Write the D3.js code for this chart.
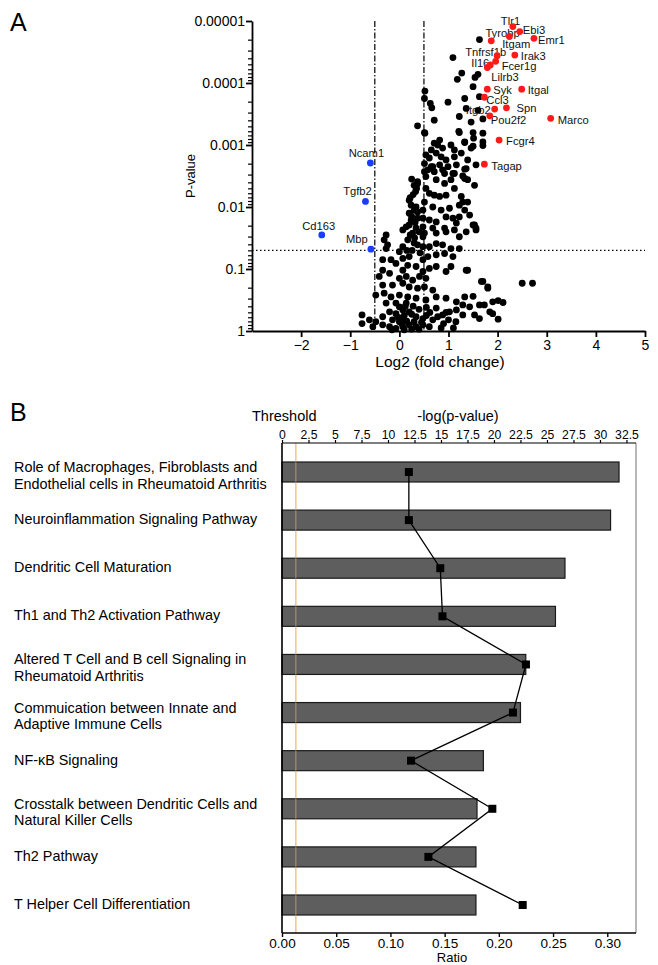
<!DOCTYPE html>
<html><head><meta charset="utf-8">
<script src="https://cdn.jsdelivr.net/npm/d3@7"></script>
<style>
body{margin:0;background:#fff;}
svg{display:block;font-family:"Liberation Sans",Arial,Helvetica,sans-serif;}
</style></head>
<body><svg id="c" width="658" height="965"></svg>
<script>
// ---------- Panel A data ----------
const xTicksA = [-2,-1,0,1,2,3,4,5];
const yTicksA = [1e-5,1e-4,1e-3,1e-2,1e-1,1];
const yTickLabelsA = ["0.00001","0.0001","0.001","0.01","0.1","1"];
const pThreshold = 0.05;
const fcThresholds = [-0.5, 0.5];
// [log2 fold change, -log10 p]
const blackPoints = [
[1.63,4.70],[1.09,4.41],[1.27,4.16],[1.18,4.06],[1.60,4.14],[1.54,4.09],[1.50,3.94],[0.52,3.87],
[0.51,3.75],[0.63,3.67],[0.66,3.60],[0.99,3.69],[1.33,3.75],[1.63,3.78],[1.36,3.59],[1.60,3.56],
[0.37,3.31],[0.51,3.20],[0.71,3.40],[1.22,3.46],[1.46,3.37],[1.70,3.42],[1.22,3.20],[1.50,3.20],
[0.82,3.08],[0.71,3.03],[0.78,3.00],[0.88,2.95],[1.05,3.00],[1.12,2.92],[1.33,3.05],[1.46,2.95],[1.70,3.05],
[0.65,2.92],[0.75,2.87],[0.54,2.84],[0.61,2.79],[0.85,2.81],[0.95,2.76],[1.12,2.81],[1.26,2.87],[1.39,2.76],
[1.56,2.68],[1.36,2.62],[1.16,2.68],[0.99,2.65],[0.82,2.68],[0.65,2.65],[0.51,2.70],[0.51,2.57],[0.71,2.57],
[0.92,2.54],[1.12,2.54],[0.52,3.19],[1.21,3.22],[1.51,3.11],[1.70,3.19],[1.70,2.99],[1.33,3.04],[1.50,2.98],
[1.33,2.61],[1.29,2.50],[1.09,2.54],[0.88,2.60],
[0.37,2.38],[0.34,2.33],[0.33,2.25],[0.54,2.30],[0.61,2.22],[0.75,2.44],[0.92,2.38],[1.12,2.30],[1.05,2.44],
[1.26,2.17],[0.95,2.19],[0.82,2.17],[0.71,2.19],[0.20,2.11],[0.24,2.03],[0.34,2.00],[0.51,2.08],[0.68,2.00],
[0.85,1.95],[1.02,1.98],[1.22,2.03],[1.29,2.08],[1.39,2.08],[1.22,1.84],[0.20,1.90],[0.24,1.79],[0.37,1.82],
[0.48,1.82],[0.61,1.79],[0.75,1.76],[0.48,1.68],[0.34,1.66],[0.27,1.58],[0.51,1.58],[0.92,1.66],[0.95,1.60],
[1.12,1.63],[1.53,1.71],[1.56,1.63],[1.22,1.52],[-0.27,1.55],[-0.31,1.47],[-0.24,1.39],[-0.27,1.33],[0.17,1.47],
[0.31,1.50],[0.48,1.52],[0.37,1.39],[0.48,1.36],[0.61,1.36],[0.75,1.41],[0.88,1.39],[1.05,1.33],[1.22,1.33],
[0.92,1.25],[0.75,1.23],[0.58,1.20],[0.48,1.15],[0.20,1.20],[0.07,1.17],[-0.17,1.15],[-0.34,1.15],[1.09,1.20],
[1.36,0.98],[1.05,1.04],[0.95,0.96],[0.75,1.04],[0.61,1.01],[0.48,0.96],[0.34,1.04],[0.17,1.06],[0.07,0.98],
[-0.07,1.09],[-0.20,0.93],[-0.34,0.98],[-0.41,0.88],[1.70,0.80],[1.80,0.71],[2.50,0.77],[2.71,0.77],
[-0.34,0.74],[-0.14,0.74],[0.07,0.77],[0.20,0.71],[0.37,0.69],[0.51,0.71],[0.68,0.66],[0.75,0.55],
[-0.48,0.58],[-0.31,0.61],[-0.17,0.55],[0.00,0.58],[0.17,0.55],[0.34,0.53],[0.54,0.50],[0.95,0.53],[1.16,0.47],
[1.33,0.55],[1.50,0.56],[1.29,0.42],[1.43,0.39],[1.63,0.42],[1.73,0.42],[1.90,0.47],[2.01,0.49],[2.11,0.46],
[1.84,0.31],[1.90,0.28],[2.01,0.19],[1.63,0.20],[1.53,0.26],[1.16,0.34],[1.29,0.26],[1.02,0.31],[0.88,0.26],
[0.75,0.37],[0.78,0.23],[0.68,0.18],[0.48,0.20],[0.34,0.23],[0.20,0.31],[0.07,0.34],[-0.07,0.28],[-0.20,0.31],
[-0.34,0.23],[-0.48,0.15],[-0.61,0.18],[-0.76,0.26],[-0.76,0.12],[-0.54,0.07],[-0.34,0.10],[-0.20,0.07],
[-0.07,0.04],[0.07,0.07],[0.20,0.10],[0.34,0.07],[0.48,0.10],[0.61,0.07],[0.00,0.15],[-0.14,0.18],[0.07,0.20],
[0.00,0.39],[0.14,0.45],[-0.07,0.45],[-0.27,0.45],[0.14,0.88],[0.27,0.82],[0.00,0.85],[0.41,0.88],[0.54,0.85],
[0.07,1.36],[0.00,1.28],[0.14,1.68],[0.07,1.63],[0.20,1.71],[0.75,1.58],[0.68,1.66],[1.09,1.82],[1.16,1.74],
[0.95,1.84],[1.43,1.87],[1.33,1.95],[0.48,1.95],[0.37,1.92],[0.54,2.49],[0.58,2.60],[0.68,2.65],
[0.10,0.02],[0.25,0.03],[0.40,0.03],[-0.15,0.02],[0.05,0.12],[0.15,0.16],[0.30,0.15],[0.45,0.14],[0.55,0.25],
[0.62,0.30],[0.10,0.25],[0.25,0.27],[-0.02,0.22],[0.12,0.40],[0.28,0.40],[0.40,0.35],[0.55,0.38],[0.90,0.12],
[1.00,0.18],[1.15,0.15],[1.10,0.05],[0.85,0.05],[0.95,0.30],[0.25,2.45],[0.30,2.35],[0.28,2.20],[0.22,2.15],
[0.30,1.95],[0.25,1.85],[0.32,1.75],[0.40,1.60],[0.22,1.55],[0.30,1.42],[0.26,1.30],[0.15,1.30],[0.42,1.26],
[0.37,2.41],[0.35,2.30],[1.33,2.46],[1.39,2.44],[1.53,2.35],[1.50,1.71],[1.56,1.66],[1.36,1.60],
[1.67,0.80],[1.80,0.69],[1.39,0.98]
];
// [gene, log2 fold change, -log10 p]
const upGenes = [
["Tlr1",2.31,4.91],["Ebi3",2.45,4.83],["Tyrobp",2.24,4.75],["Itgam",1.87,4.68],["Emr1",2.74,4.72],
["Tnfrsf1b",1.99,4.44],["Irak3",2.35,4.45],["Il16",1.79,4.25],["Fcer1g",1.96,4.35],["Lilrb3",1.85,4.29],
["Syk",1.79,3.90],["Itgal",2.49,3.90],["Ccl3",1.73,3.77],["Itgb2",1.94,3.58],["Spn",2.18,3.60],
["Pou2f2",1.84,3.47],["Marco",3.08,3.43],["Fcgr4",2.03,3.08],["Tagap",1.73,2.69]
];
const downGenes = [
["Ncam1",-0.59,2.71],["Tgfb2",-0.69,2.09],["Cd163",-1.58,1.55],["Mbp",-0.58,1.32]
];
// label placement (layout only)
const labelLayout = {
Tlr1:[-12,-2,"start"],Ebi3:[3,2,"start"],Tyrobp:[-24,0,"start"],Itgam:[11,7.5,"start"],Emr1:[4,5.5,"start"],
Tnfrsf1b:[-32,0,"start"],Irak3:[6,5,"start"],Il16:[-16,-1,"start"],Fcer1g:[6,9,"start"],Lilrb3:[1,15.5,"start"],
Syk:[6,4.5,"start"],Itgal:[6,4.5,"start"],Ccl3:[2,7,"start"],Itgb2:[-4,4.5,"end"],Spn:[10,4.5,"start"],
Pou2f2:[1,8,"start"],Marco:[7,5.5,"start"],Fcgr4:[7,5,"start"],Tagap:[7,5.5,"start"],
Ncam1:[-4,-6,"middle"],Tgfb2:[-8,-6,"middle"],Cd163:[-3,-4.5,"middle"],Mbp:[-14,-6,"middle"]
};

// ---------- Panel B data ----------
const pathways = [
"Role of Macrophages, Fibroblasts and|Endothelial cells in Rheumatoid Arthritis",
"Neuroinflammation Signaling Pathway",
"Dendritic Cell Maturation",
"Th1 and Th2 Activation Pathway",
"Altered T Cell and B cell Signaling in|Rheumatoid Arthritis",
"Commuication between Innate and|Adaptive Immune Cells",
"NF-κB Signaling",
"Crosstalk between Dendritic Cells and|Natural Killer Cells",
"Th2 Pathway",
"T Helper Cell Differentiation"
];
const negLogP = [31.8, 31.0, 26.7, 25.8, 23.0, 22.5, 19.0, 18.4, 18.3, 18.3];
const ratio = [0.117, 0.117, 0.146, 0.148, 0.225, 0.213, 0.119, 0.194, 0.135, 0.222];
const topTicks = [0,2.5,5,7.5,10,12.5,15,17.5,20,22.5,25,27.5,30,32.5];
const bottomTicks = [0,0.05,0.10,0.15,0.20,0.25,0.30];
const thresholdValue = 1.3;

// ---------- Drawing ----------
const svg = d3.select("#c");
const font = '"Liberation Sans",Arial,Helvetica,sans-serif';

svg.append("text").attr("x",10).attr("y",31).attr("font-size",25).text("A");
svg.append("text").attr("x",10).attr("y",421).attr("font-size",25).text("B");

// ===== Panel A =====
const xA = d3.scaleLinear().domain([-3,5]).range([252,645]);
const yA = d3.scaleLog().domain([1e-5,1]).range([21,331]);
const pv = v => Math.pow(10,-v);

const gA = svg.append("g");
gA.append("line").attr("x1",xA(-3)).attr("x2",xA(5)).attr("y1",yA(pThreshold)).attr("y2",yA(pThreshold))
  .attr("stroke","#000").attr("stroke-width",1.3).attr("stroke-dasharray","1.5,2.5");
fcThresholds.forEach(f=>{
  gA.append("line").attr("x1",xA(f)).attr("x2",xA(f)).attr("y1",yA(1e-5)).attr("y2",yA(1))
    .attr("stroke","#000").attr("stroke-width",1.2).attr("stroke-dasharray","6,2,1.5,2");
});

const xAxisA = d3.axisBottom(xA).tickValues(xTicksA).tickFormat(d3.format("d")).tickSize(6).tickSizeOuter(0).tickPadding(3);
const gx = gA.append("g").attr("transform","translate(0,331)").call(xAxisA);
gx.selectAll("text").attr("font-size",14).attr("font-family",font).attr("fill","#000");
gx.selectAll("line,path").attr("stroke","#000").attr("stroke-width",1.8);

const minorTicks = [];
[1e-5,1e-4,1e-3,1e-2,1e-1].forEach(b=>{for(let k=2;k<=9;k++) minorTicks.push(b*k);});
const gyMinor = gA.append("g").attr("transform","translate(252,0)")
  .call(d3.axisLeft(yA).tickValues(minorTicks).tickFormat("").tickSize(4).tickSizeOuter(0));
gyMinor.selectAll("line").attr("stroke","#000").attr("stroke-width",1.2);
gyMinor.select("path").remove();
const yAxisA = d3.axisLeft(yA).tickValues(yTicksA).tickFormat((d,i)=>yTickLabelsA[i]).tickSize(6).tickSizeOuter(0).tickPadding(1);
const gy = gA.append("g").attr("transform","translate(252,0)").call(yAxisA);
gy.selectAll("text").attr("font-size",14).attr("font-family",font).attr("fill","#000");
gy.selectAll("line,path").attr("stroke","#000").attr("stroke-width",1.8);

gA.append("text").attr("x",440).attr("y",367).attr("text-anchor","middle").attr("font-size",15.5).text("Log2 (fold change)");
gA.append("text").attr("transform","translate(195,176) rotate(-90)").attr("text-anchor","middle").attr("font-size",13).text("P-value");

const allLabeled = upGenes.concat(downGenes);
gA.selectAll("text.gl").data(allLabeled).join("text").attr("class","gl")
  .attr("x",d=>xA(d[1])+labelLayout[d[0]][0]).attr("y",d=>yA(pv(d[2]))+labelLayout[d[0]][1])
  .attr("text-anchor",d=>labelLayout[d[0]][2]).attr("font-size",11.2).attr("fill","#111").text(d=>d[0]);

gA.selectAll("circle.b").data(blackPoints).join("circle").attr("class","b")
  .attr("cx",d=>xA(d[0])).attr("cy",d=>yA(pv(d[1]))).attr("r",3.4).attr("fill","#000");
gA.selectAll("circle.u").data(upGenes).join("circle").attr("class","u")
  .attr("cx",d=>xA(d[1])).attr("cy",d=>yA(pv(d[2]))).attr("r",3.4).attr("fill","#ff1a1a");
gA.selectAll("circle.d").data(downGenes).join("circle").attr("class","d")
  .attr("cx",d=>xA(d[1])).attr("cy",d=>yA(pv(d[2]))).attr("r",3.4).attr("fill","#1a3cff");

// ===== Panel B =====
const L = 282, R = 636, T = 443, B = 933;
const xTop = d3.scaleLinear().domain([0,33.4]).range([L,R]);
const xBot = d3.scaleLinear().domain([0,0.3265]).range([L,R]);
const yB = d3.scalePoint().domain(pathways).range([472,905]);
const gB = svg.append("g");

gB.append("line").attr("x1",R).attr("x2",R).attr("y1",T).attr("y2",B).attr("stroke","#8a8a8a").attr("stroke-width",1.2);
gB.append("line").attr("x1",xTop(thresholdValue)).attr("x2",xTop(thresholdValue)).attr("y1",T).attr("y2",B)
  .attr("stroke","#f7c98a").attr("stroke-width",1.5);
gB.selectAll("rect.bar").data(pathways).join("rect").attr("class","bar")
  .attr("x",xTop(0)).attr("y",d=>yB(d)-10).attr("height",20)
  .attr("width",(d,i)=>xTop(negLogP[i])-xTop(0))
  .attr("fill","#5e5e5e").attr("stroke","#1a1a1a").attr("stroke-width",1.2);
gB.append("line").attr("x1",xTop(thresholdValue)).attr("x2",xTop(thresholdValue)).attr("y1",T).attr("y2",B)
  .attr("stroke","#f7c98a").attr("stroke-opacity",0.35).attr("stroke-width",1.5);

const lineGen = d3.line().x(d=>xBot(d)).y((d,i)=>yB(pathways[i]));
gB.append("path").datum(ratio).attr("d",lineGen).attr("fill","none").attr("stroke","#000").attr("stroke-width",1.3);
gB.selectAll("rect.mk").data(ratio).join("rect").attr("class","mk")
  .attr("x",d=>xBot(d)-4).attr("y",(d,i)=>yB(pathways[i])-4).attr("width",8).attr("height",8).attr("fill","#000");

const topAxis = d3.axisTop(xTop).tickValues(topTicks).tickFormat(d=>String(d)).tickSize(3).tickSizeOuter(0).tickPadding(1);
const gt = gB.append("g").attr("transform",`translate(0,${T})`).call(topAxis);
gt.select("path").attr("d",`M${L},0H${R}`);
gt.selectAll("text").attr("font-size",12.2).attr("font-family",font).attr("fill","#000");
gt.selectAll("line,path").attr("stroke","#000").attr("stroke-width",1.2);

const botAxis = d3.axisBottom(xBot).tickValues(bottomTicks).tickFormat(d3.format(".2f")).tickSize(4).tickSizeOuter(0).tickPadding(1);
const gbx = gB.append("g").attr("transform",`translate(0,${B})`).call(botAxis);
gbx.select("path").attr("d",`M${L},0H${R}`);
gbx.selectAll("text").attr("font-size",13.5).attr("font-family",font).attr("fill","#000");
gbx.selectAll("line,path").attr("stroke","#000").attr("stroke-width",1.4);

gB.append("line").attr("x1",L).attr("x2",L).attr("y1",T).attr("y2",B).attr("stroke","#000").attr("stroke-width",1.6);

gB.append("text").attr("x",252).attr("y",421).attr("font-size",14.5).text("Threshold");
gB.append("text").attr("x",458).attr("y",421).attr("text-anchor","middle").attr("font-size",14.5).text("-log(p-value)");
gB.append("text").attr("x",452).attr("y",962).attr("text-anchor","middle").attr("font-size",13).text("Ratio");

pathways.forEach((p,i)=>{
  const lines = p.split("|");
  const cy = yB(p);
  const t = gB.append("text").attr("x",14).attr("font-size",14.4).attr("fill","#000");
  if(lines.length===1){
    t.attr("y",cy+4).text(lines[0]);
  } else {
    t.append("tspan").attr("x",14).attr("y",cy).text(lines[0]);
    t.append("tspan").attr("x",14).attr("y",cy+16.6).text(lines[1]);
  }
});
</script></body></html>
